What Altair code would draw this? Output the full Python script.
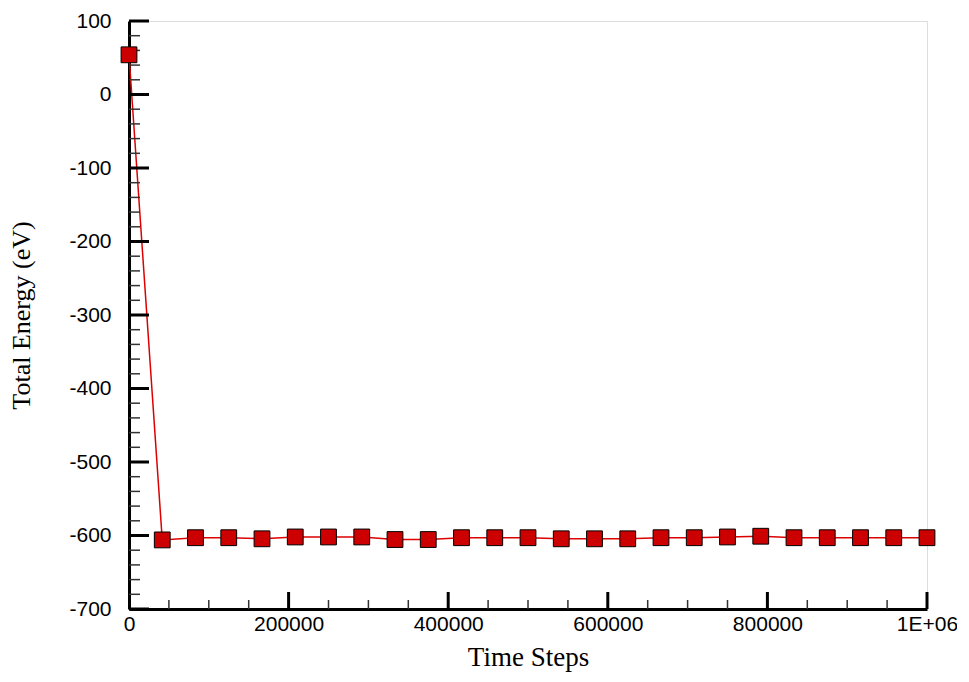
import altair as alt
import pandas as pd

steps = [0, 41667, 83333, 125000, 166667, 208333, 250000, 291667, 333333,
         375000, 416667, 458333, 500000, 541667, 583333, 625000, 666667,
         708333, 750000, 791667, 833333, 875000, 916667, 958333, 1000000]
energy = [54, -606, -603, -603, -604.5, -602, -602, -602, -605.5, -605.5,
          -603, -603, -603, -604.5, -604.5, -604.5, -603, -603, -602, -601,
          -603, -603, -603, -603, -603]

y_major = [100, 0, -100, -200, -300, -400, -500, -600, -700]
y_minor = [v for v in range(-700, 101, 20) if v % 100 != 0]
x_major = [200000, 400000, 600000, 800000, 1000000]
x_minor = [v for v in range(50000, 1000001, 50000) if v % 200000 != 0]

df = pd.DataFrame({"step": steps, "energy": energy})

W, H = 798, 588
xs = alt.Scale(domain=[0, 1000000], nice=False, zero=False)
ys = alt.Scale(domain=[-700, 100], nice=False, zero=False)

label_font = "Liberation Sans"
title_font = "Liberation Serif"

base = alt.Chart(df)

line = base.mark_line(color="#dd0000", strokeWidth=1.5).encode(
    x=alt.X("step:Q", scale=xs,
            axis=alt.Axis(title="Time Steps", values=[0] + x_major, format="d",
                          labelExpr="datum.value == 1000000 ? '1E+06' : datum.label",
                          labelFlush=False,
                          ticks=False, grid=False, domainColor="black",
                          domainWidth=3, labelFontSize=21, labelFont=label_font,
                          labelColor="black", labelPadding=4,
                          titleFont=title_font, titleFontSize=27,
                          titleFontWeight="normal", titleColor="black",
                          titlePadding=10)),
    y=alt.Y("energy:Q", scale=ys,
            axis=alt.Axis(title="Total Energy (eV)", values=y_major,
                          labelExpr="'' + datum.value",
                          ticks=False, grid=False, domainColor="black",
                          domainWidth=3, labelFontSize=21, labelFont=label_font,
                          labelColor="black", labelPadding=18,
                          titleFont=title_font, titleFontSize=26,
                          titleFontWeight="normal", titleColor="black",
                          titlePadding=34)),
)

points = base.mark_square(size=250, color="#cc0000", stroke="black",
                          strokeWidth=1, opacity=1, filled=True).encode(
    x=alt.X("step:Q", scale=xs),
    y=alt.Y("energy:Q", scale=ys),
)

ymaj = alt.Chart(pd.DataFrame({"v": y_major})).mark_rule(color="black", strokeWidth=3).encode(
    y=alt.Y("v:Q", scale=ys), x=alt.value(0), x2=alt.value(20))
ymin = alt.Chart(pd.DataFrame({"v": y_minor})).mark_rule(color="#333333", strokeWidth=1.5).encode(
    y=alt.Y("v:Q", scale=ys), x=alt.value(0), x2=alt.value(11))
xmaj = alt.Chart(pd.DataFrame({"v": x_major})).mark_rule(color="black", strokeWidth=3).encode(
    x=alt.X("v:Q", scale=xs), y=alt.value(H), y2=alt.value(H - 17))
xmin = alt.Chart(pd.DataFrame({"v": x_minor})).mark_rule(color="#333333", strokeWidth=1.5).encode(
    x=alt.X("v:Q", scale=xs), y=alt.value(H), y2=alt.value(H - 9))

chart = alt.layer(line, ymin, xmin, ymaj, xmaj, points).properties(
    width=W, height=H,
    autosize=alt.AutoSizeParams(type="none"),
    padding={"left": 121, "top": 13, "right": 30, "bottom": 64},
).configure_view(stroke="transparent", strokeWidth=0).configure(background="white")

chart.save("out.html", embed_options={"renderer": "svg", "actions": False})
